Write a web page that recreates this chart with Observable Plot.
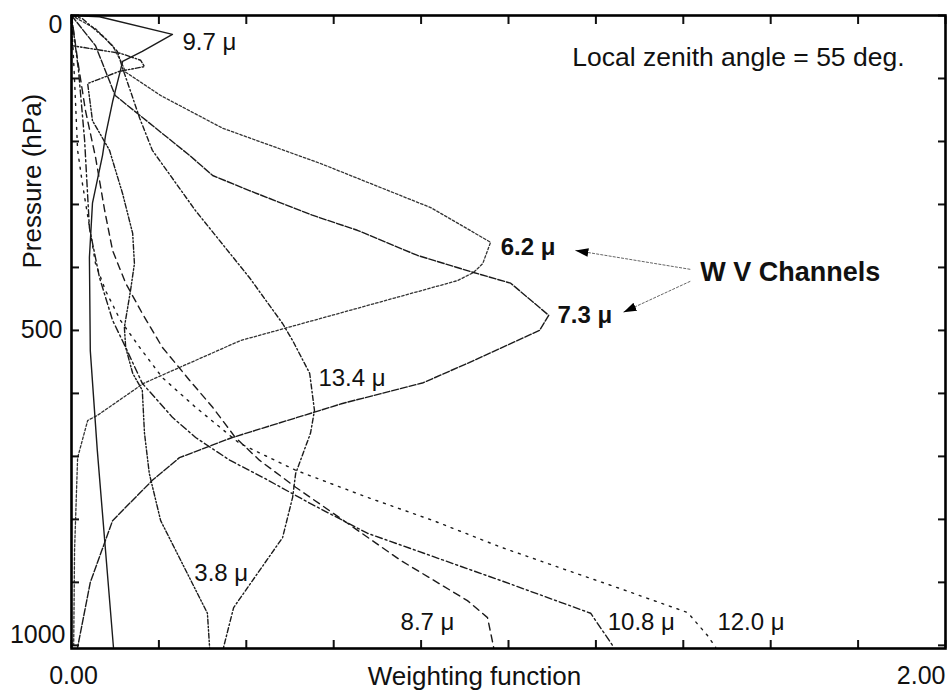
<!DOCTYPE html>
<html>
<head>
<meta charset="utf-8">
<script src="https://cdn.jsdelivr.net/npm/d3@7"></script>
<script src="https://cdn.jsdelivr.net/npm/@observablehq/plot@0.6"></script>
<style>
  body { margin: 0; background: #fff; }
  svg { font-family: "Liberation Sans", Arial, sans-serif; }
</style>
</head>
<body>
<div id="chart"></div>
<script>
// ---------- data (weighting function vs pressure, hPa) ----------
const pres38 = [0,48,60,71,81,89,108,167,214,283,346,394,437,495,527,568,595,663,727,802,949,1003];
const wf38   = [0,0.002,0.112,0.158,0.167,0.108,0.037,0.048,0.087,0.117,0.14,0.144,0.135,0.121,0.124,0.14,0.162,0.167,0.178,0.204,0.311,0.316];

const pres62 = [0,21,48,71,90,127,179,235,305,360,394,408,421,481,516,584,635,643,702,849,1000];
const wf62   = [0,0.055,0.094,0.112,0.124,0.204,0.346,0.570,0.822,0.959,0.941,0.920,0.883,0.570,0.387,0.165,0.059,0.037,0.014,0.007,0.005];

const pres73 = [0,48,127,222,254,278,317,341,381,408,425,476,500,548,583,616,670,702,738,802,900,1003];
const wf73   = [0,0.055,0.10,0.27,0.323,0.407,0.551,0.654,0.792,0.92,1.005,1.092,1.071,0.92,0.805,0.62,0.368,0.247,0.185,0.094,0.043,0.014];

const pres87 = [0,71,151,225,310,373,425,473,527,579,622,670,706,749,786,865,929,956,1003];
const wf87   = [0,0.014,0.032,0.055,0.076,0.094,0.124,0.162,0.208,0.27,0.323,0.375,0.43,0.513,0.59,0.753,0.906,0.952,0.966];

const pres97 = [0,2,30,57,73,87,137,190,222,298,384,532,690,1003];
const wf97   = [0,0.064,0.231,0.162,0.117,0.112,0.094,0.078,0.071,0.048,0.041,0.043,0.059,0.096];

const pres108 = [0,87,198,337,416,484,527,584,638,670,706,733,775,822,897,949,1000];
const wf108   = [0,0.016,0.03,0.041,0.064,0.094,0.124,0.162,0.231,0.284,0.362,0.437,0.547,0.677,0.982,1.188,1.238];

const pres120 = [0,103,214,267,394,437,484,527,575,622,679,722,765,802,844,881,910,948,984,1003];
const wf120   = [0,0.007,0.014,0.025,0.055,0.078,0.112,0.156,0.208,0.284,0.384,0.513,0.677,0.828,0.982,1.135,1.256,1.41,1.455,1.474];

const pres134 = [0,5,37,57,84,116,163,214,310,416,489,516,568,627,663,727,765,829,940,1003];
const wf134   = [0,0.025,0.078,0.105,0.117,0.133,0.156,0.185,0.284,0.407,0.483,0.506,0.545,0.556,0.547,0.513,0.506,0.483,0.371,0.348];

const channels = ["3.8","6.2","7.3","8.7","9.7","10.8","12.0","13.4"];
const pressures = [pres38, pres62, pres73, pres87, pres97, pres108, pres120, pres134];
const weights   = [wf38, wf62, wf73, wf87, wf97, wf108, wf120, wf134];

// tick values / labels
const xTicks = [0,0.2,0.4,0.6,0.8,1.0,1.2,1.4,1.6,1.8,2.0];
const yTicks = [0,100,200,300,400,500,600,700,800,900,1000];
const xTickLabels = ["0.00","2.00"];
const xTickValues = [0, 2];
const yTickLabels = ["0","500","1000"];
const yTickValues = [0, 500, 1000];

// curve labels
const labelText = ["9.7 \u03bc","6.2 \u03bc","7.3 \u03bc","13.4 \u03bc","3.8 \u03bc","8.7 \u03bc","10.8 \u03bc","12.0 \u03bc"];
const labelBold = [false,true,true,false,false,false,false,false];
const labelW = [0.254, 0.982, 1.112, 0.565, 0.281, 0.753, 1.227, 1.478];
const labelP = [43, 368, 476, 576, 886, 963, 963, 963];

// ---------- styles ----------
const dashes = {
  "3.8": "5,2,1.5,2,1.5,2",
  "6.2": "2.5,2",
  "7.3": "7,2",
  "8.7": "7,5",
  "9.7": null,
  "10.8": "7,3,2,3",
  "12.0": "2,6",
  "13.4": "5,2.5,1.5,2.5"
};
const ink = "#1b1b1b";

const curveMarks = channels.map((ch, k) => {
  const rows = pressures[k].map((p, i) => ({p, w: weights[k][i]}));
  return Plot.line(rows, {
    x: "w", y: "p", stroke: ch === "6.2" ? "#333" : ink, strokeWidth: ch === "6.2" ? 1.3 : 1.4,
    strokeDasharray: dashes[ch] || undefined, curve: "linear"
  });
});

const labels = labelText.map((t, i) => ({t, w: labelW[i], p: labelP[i], b: labelBold[i]}));
const arrows = [
  {x1: 1.416, y1: 403, x2: 1.153, y2: 373},
  {x1: 1.416, y1: 422, x2: 1.263, y2: 471}
];

const chart = Plot.plot({
  width: 948, height: 692,
  marginLeft: 71, marginRight: 3, marginTop: 15, marginBottom: 44,
  style: {fontFamily: '"Liberation Sans", Arial, sans-serif', background: "#fff", color: "#111"},
  x: {domain: [0, 2], axis: null, label: null},
  y: {domain: [0, 1005], reverse: true, axis: null, label: null},
  marks: [
    ...curveMarks,
    // inward ticks on all four sides
    Plot.axisX(xTicks, {anchor: "bottom", tickSize: -8, strokeWidth: 2, tickFormat: () => "", label: null}),
    Plot.axisX(xTicks, {anchor: "top", tickSize: -8, strokeWidth: 2, tickFormat: () => "", label: null}),
    Plot.axisY(yTicks, {anchor: "left", tickSize: -8, strokeWidth: 2, tickFormat: () => "", label: null}),
    Plot.axisY(yTicks, {anchor: "right", tickSize: -8, strokeWidth: 2, tickFormat: () => "", label: null}),
    Plot.frame({stroke: "#000", strokeWidth: 2.6}),
    // tick labels
    Plot.text([0], {x: i => xTickValues[i], text: i => xTickLabels[i], frameAnchor: "bottom", lineAnchor: "middle", dy: 27, dx: 2, textAnchor: "middle", fontSize: 25, fill: "#111"}),
    Plot.text([1], {x: i => xTickValues[i], text: i => xTickLabels[i], frameAnchor: "bottom", lineAnchor: "middle", dy: 27, textAnchor: "end", fontSize: 25, fill: "#111"}),
    Plot.text([0], {y: i => yTickValues[i], text: i => yTickLabels[i], frameAnchor: "left", lineAnchor: "middle", dx: -9, dy: 9, textAnchor: "end", fontSize: 25, fill: "#111"}),
    Plot.text([1], {y: i => yTickValues[i], text: i => yTickLabels[i], frameAnchor: "left", lineAnchor: "middle", dx: -9, textAnchor: "end", fontSize: 25, fill: "#111"}),
    Plot.text([2], {y: i => yTickValues[i], text: i => yTickLabels[i], frameAnchor: "left", lineAnchor: "middle", dx: -6, dy: -10, textAnchor: "end", fontSize: 25, fill: "#111"}),
    // axis titles
    Plot.text(["Weighting function"], {x: () => 0.922, text: d => d, frameAnchor: "bottom", lineAnchor: "middle", textAnchor: "middle", dy: 28, fontSize: 26, fill: "#111"}),
    Plot.text(["Pressure (hPa)"], {y: () => 263, text: d => d, frameAnchor: "left", lineAnchor: "middle", textAnchor: "middle", dx: -39, rotate: -90, fontSize: 26, fill: "#111"}),
    // annotations
    Plot.text(["Local zenith angle = 55 deg."], {x: () => 1.146, y: () => 66, text: d => d, textAnchor: "start", fontSize: 26.5, fill: "#111"}),
    Plot.text(["W V Channels"], {x: () => 1.439, y: () => 408, text: d => d, textAnchor: "start", fontSize: 27, fontWeight: "bold", fill: "#111"}),
    Plot.text(labels.filter(d => !d.b), {x: "w", y: "p", text: "t", textAnchor: "start", fontSize: 24, fill: "#111"}),
    Plot.text(labels.filter(d => d.b), {x: "w", y: "p", text: "t", textAnchor: "start", fontSize: 24, fontWeight: "bold", fill: "#111"}),
    Plot.link(arrows, {x1: "x1", y1: "y1", x2: "x2", y2: "y2", stroke: "#666", strokeWidth: 1, strokeDasharray: "3,1.2"})
  ]
});

// filled triangular arrowheads on the link lines
const svg = d3.select(chart);
const defs = svg.insert("defs", ":first-child");
defs.append("marker")
  .attr("id", "tri-head").attr("viewBox", "0 0 12 8").attr("refX", 12).attr("refY", 4)
  .attr("markerWidth", 13).attr("markerHeight", 9).attr("markerUnits", "userSpaceOnUse")
  .attr("orient", "auto")
  .append("path").attr("d", "M0,0L12,4L0,8Z").attr("fill", "#000");
svg.selectAll('g[aria-label="link"] path').attr("marker-end", "url(#tri-head)");

document.getElementById("chart").appendChild(chart);
</script>
</body>
</html>
